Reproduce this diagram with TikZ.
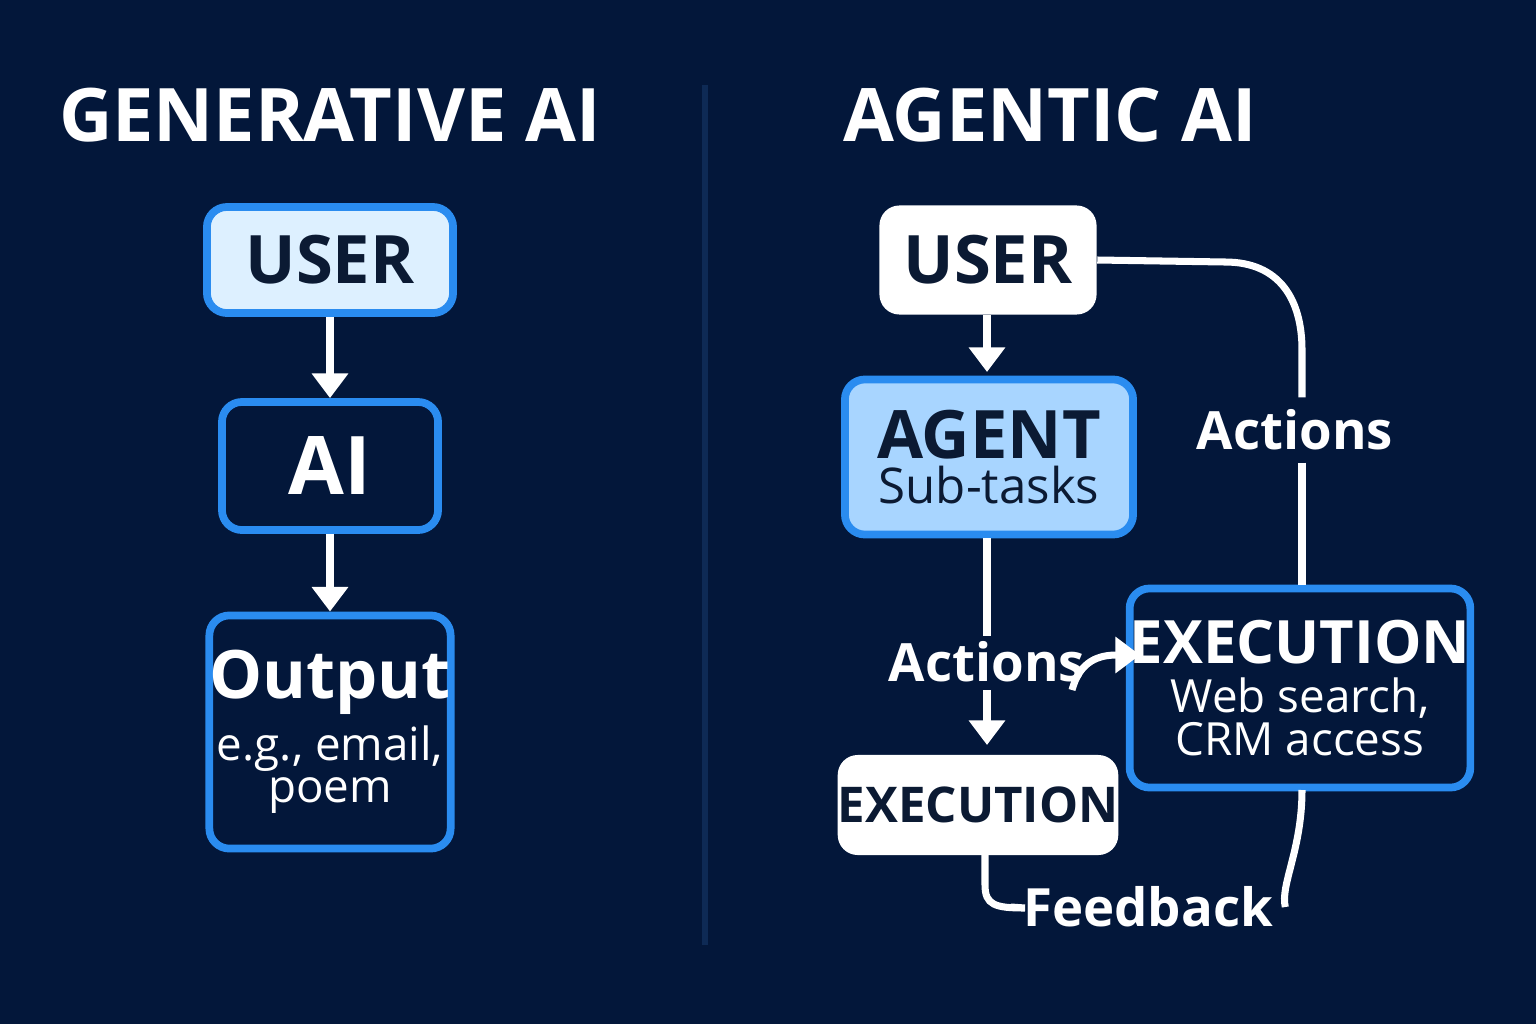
\documentclass[tikz,border=0pt]{standalone}
\usepackage{fontspec}
\setmainfont{Open Sans}
\usetikzlibrary{arrows.meta}
\definecolor{bg}{HTML}{03173A}
\definecolor{bord}{HTML}{2A8CF0}
\definecolor{lite}{HTML}{DDF0FF}
\definecolor{agent}{HTML}{A8D5FF}
\definecolor{dark}{HTML}{0B1A33}
\definecolor{divc}{HTML}{0E2A55}
\newcommand{\bigf}{\fontsize{19}{22}\selectfont\bfseries}
\newcommand{\smf}{\fontsize{13}{17}\selectfont}
\begin{document}
\begin{tikzpicture}[x=0.01cm,y=-0.01cm,
  box/.style={draw=bord,line width=2.2pt,rounded corners=0.2cm,inner sep=0pt},
  wbox/.style={fill=white,draw=none,rounded corners=0.2cm,inner sep=0pt},
  con/.style={white,line width=2pt},
  arr/.style={con,-{Triangle[length=7pt,width=10pt]}},
  ttl/.style={font=\fontsize{21}{24}\selectfont\bfseries,text=white}]
\fill[bg] (0,0) rectangle (1536,1024);
\useasboundingbox (0,0) rectangle (1536,1024);
\draw[color=divc,line width=1.5pt] (705,85) -- (705,945);
\node[ttl] (t1) at (330,115) {GENERATIVE AI};
\node[ttl] (t2) at (1050,115) {AGENTIC AI};
% left
\node[box,fill=lite,minimum width=2.46cm,minimum height=1.06cm,font=\bigf,text=dark] (u1) at (330,260) {USER};
\node[box,fill=bg,minimum width=2.16cm,minimum height=1.28cm,font=\fontsize{23}{26}\selectfont\bfseries,text=white] (ai) at (330,466) {AI};
\node[box,fill=bg,minimum width=2.27cm,minimum height=2.33cm,text=white,align=center] (out) at (330,732) {\bigf Output\\[2pt]\smf e.g., email,\\\smf poem};
\draw[arr] (u1) -- (ai);
\draw[arr] (ai) -- (out);
% right
\node[wbox,minimum width=2.17cm,minimum height=1.09cm,font=\bigf,text=dark] (u2) at (988,260) {USER};
\node[box,fill=agent,minimum width=2.88cm,minimum height=1.55cm,text=dark,align=center] (ag) at (989,457) {\bigf AGENT\\[1pt]\fontsize{14}{17}\selectfont Sub-tasks};
\node[wbox,minimum width=2.67cm,minimum height=1.0cm,font=\fontsize{14}{17}\selectfont\bfseries,text=dark] (e1) at (978,805) {EXECUTION};
\node[box,fill=bg,minimum width=2.99cm,minimum height=1.99cm,text=white,align=center] (e2) at (1300,688) {\fontsize{17}{20}\selectfont\bfseries EXECUTION\\[2pt]\smf Web search,\\\smf CRM access};
\node[text=white,font=\fontsize{15}{18}\selectfont\bfseries] (la1) at (987,662) {Actions};
\node[text=white,font=\fontsize{15}{18}\selectfont\bfseries] (la2) at (1295,430) {Actions};
\node[text=white,font=\fontsize{15}{18}\selectfont\bfseries] (lf) at (1148,907) {Feedback};
\coordinate (a1) at (987,372);
\coordinate (a2) at (987,636);
\coordinate (a3) at (987,690);
\coordinate (a4) at (987,745);
\draw[arr] (u2.south -| a1) -- (a1);
\draw[con] (ag.south -| a2) -- (a2);
\draw[arr] (a3) -- (a4);
\coordinate (r1) at (1302,350);
\draw[con] (u2.east) -- (1225,262) .. controls (1280,262) and (1302,300) .. (r1) -- (la2.north -| r1);
\draw[con] (la2.south -| r1) -- (e2.north -| r1);
\draw[arr] (1072,690) .. controls (1080,660) and (1100,655) .. (1140,655);
\draw[con] (985,855) -- (985,885) .. controls (985,905) and (995,908) .. (1025,908) -- (lf.west);
\draw[con] (lf.east) .. controls (1280,885) and (1302,850) .. (1302,790);
\end{tikzpicture}
\end{document}
